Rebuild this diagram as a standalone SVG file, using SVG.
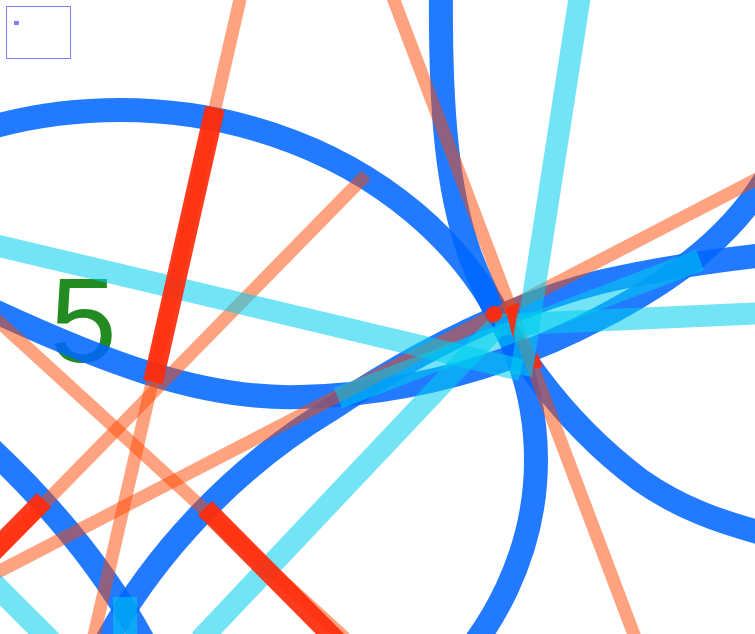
<svg xmlns="http://www.w3.org/2000/svg" width="755" height="634" viewBox="0 0 755 634">
<style>
.b{fill:none;stroke:#0066ff;stroke-opacity:0.87;stroke-width:24}
.o{fill:none;stroke:#ff4500;stroke-opacity:0.5;stroke-width:13}
.c{fill:none;stroke:#00cdef;stroke-opacity:0.55;stroke-width:22}
.r{fill:none;stroke:#ff2a0a;stroke-opacity:0.92;stroke-width:20}
.rf{fill:#ff2a0a;fill-opacity:0.92}
</style>
<rect width="755" height="634" fill="#ffffff"/>
<g id="label5"><text x="50" y="362" font-family="Liberation Sans, Arial, sans-serif" font-size="120" fill="#228b22">5</text></g>
<g id="connectors">
<g id="blue">
<ellipse class="b" cx="120" cy="460" rx="416" ry="350"/>
<path class="b" d="M 441,-10 C 440,110 447,190 470,255 C 500,335 560,420 640,480 C 680,508 720,522 765,534"/>
<path class="b" d="M -10,309 C 100,360 200,400 300,397 C 420,394 520,360 600,318 C 660,287 725,245 765,180"/>
<path class="b" d="M 105,644 C 150,560 230,470 330,410 C 420,350 510,305 600,282 C 660,268 720,260 765,255"/>
<path class="b" d="M -10,448 C 40,495 100,560 145,644"/>
</g>
<g id="orange">
<line class="o" x1="241" y1="-5" x2="93" y2="640"/>
<line class="o" x1="392" y1="-5" x2="636" y2="640"/>
<line class="o" x1="366" y1="175" x2="-20" y2="569"/>
<line class="o" x1="765" y1="175" x2="-10" y2="576"/>
<line class="o" x1="-5" y1="318" x2="345" y2="638"/>
</g>
<g id="cyan">
<line class="c" x1="580" y1="-5" x2="521" y2="375"/>
<line class="c" x1="-5" y1="245" x2="521" y2="370"/>
<line class="c" x1="765" y1="313" x2="495" y2="325"/>
<line class="c" x1="700" y1="260" x2="338" y2="398"/>
<line class="c" x1="200" y1="640" x2="495" y2="328"/>
<line class="c" x1="-25" y1="565" x2="65" y2="655"/>
<rect x="113" y="597" width="24" height="40" fill="#00cdef" fill-opacity="0.55"/>
</g>
<g id="red">
<line class="r" x1="215" y1="108" x2="153" y2="382"/>
<line class="r" x1="44" y1="500" x2="-10" y2="555"/>
<line class="r" x1="205" y1="508" x2="338" y2="642"/>
<circle class="rf" cx="494" cy="314" r="8"/>
<polygon class="rf" points="505,308 519,303 513,338"/>
<polygon class="rf" points="537,352 543,367 533,369"/>
</g>
</g>
<g id="legend">
<rect x="6.5" y="6.5" width="64" height="52" fill="none" stroke="#8080ff" stroke-width="1"/>
<rect x="14" y="21" width="5" height="4" fill="#8080ff"/>
</g>
</svg>
